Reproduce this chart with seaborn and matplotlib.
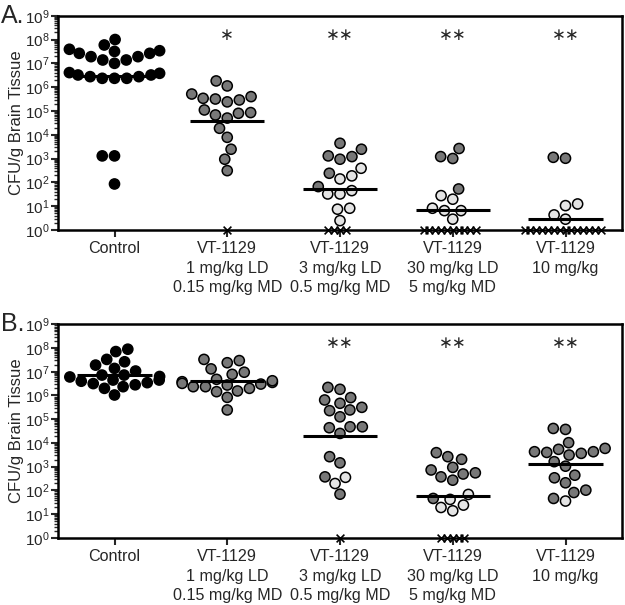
#imports
import numpy as np
import pandas as pd
import seaborn as sns
import matplotlib.pyplot as plt
from matplotlib.ticker import LogLocator, NullFormatter
import warnings
warnings.filterwarnings('ignore')

#groups (x categories)
groups = ["Control",
          "VT-1129\n1 mg/kg LD\n0.15 mg/kg MD",
          "VT-1129\n3 mg/kg LD\n0.5 mg/kg MD",
          "VT-1129\n30 mg/kg LD\n5 mg/kg MD",
          "VT-1129\n10 mg/kg"]
stars = ["", "\u2217", "\u2217\u2217", "\u2217\u2217", "\u2217\u2217"]
starsB = ["", "", "\u2217\u2217", "\u2217\u2217", "\u2217\u2217"]

#panel A, log10 CFU/g
a_ctrl = [8.0, 7.77, 7.59, 7.53, 7.50, 7.42, 7.42, 7.28, 7.28, 7.14, 7.14, 7.0,
          6.61, 6.58, 6.51, 6.51, 6.44, 6.44, 6.37, 6.37, 6.37, 3.11, 3.11, 1.93]
a_vt1_dark = [6.26, 6.05, 5.71, 5.53, 5.46, 5.38, 5.50, 5.60, 4.93, 4.70, 5.04,
              4.83, 4.90, 4.27, 3.89, 3.39, 2.97, 2.49]
a_vt3_dark = [3.64, 3.39, 3.11, 2.97, 3.08, 2.38, 1.82]
a_vt3_light = [2.59, 2.14, 2.27, 1.51, 1.65, 1.51, 0.91, 0.87, 0.39]
a_vt30_dark = [3.08, 3.00, 3.42, 1.72]
a_vt30_light = [1.29, 1.44, 0.81, 0.81, 0.91, 0.45]
a_vt10_dark = [3.01, 3.05]
a_vt10_light = [1.09, 1.02, 0.63, 0.45]
a_nd = [0, 1, 4, 10, 14]   # number of X (at detection limit) per group

#panel B
b_ctrl = [7.95, 7.85, 7.52, 7.42, 7.28, 7.14, 7.03, 6.86, 6.86, 6.80, 6.78,
          6.65, 6.65, 6.60, 6.54, 6.50, 6.45, 6.37, 6.30, 6.02]
b_vt1_dark = [7.47, 7.52, 7.38, 7.12, 6.89, 6.98, 6.68, 6.58, 6.44, 6.37, 6.19,
              6.16, 5.92, 6.30, 6.37, 6.51, 5.39, 6.55, 6.48, 6.62]
b_vt3_dark = [6.34, 6.26, 5.81, 5.91, 5.50, 5.36, 5.39, 5.67, 5.10, 4.68, 4.64,
              4.40, 4.68, 3.42, 3.16, 2.57, 1.84]
b_vt3_light = [2.29, 2.55]
b_vt30_dark = [3.42, 3.31, 3.59, 2.86, 2.69, 2.43, 2.57, 2.74, 2.97, 1.66]
b_vt30_light = [1.83, 1.62, 1.28, 1.14, 1.38]
b_vt10_dark = [4.57, 4.61, 4.01, 3.63, 3.73, 3.56, 3.77, 3.60, 3.63, 3.49, 3.21,
               3.02, 2.53, 2.64, 2.32, 2.01, 1.91, 1.66]
b_vt10_light = [1.55]
b_nd = [0, 0, 1, 5, 0]


def build(ctrl, dark, light, nd):
    rows = []
    for v in ctrl:
        rows.append((groups[0], 10 ** v, 'ctrl'))
    for i in range(4):
        for v in dark[i]:
            rows.append((groups[i + 1], 10 ** v, 'dark'))
        for v in light[i]:
            rows.append((groups[i + 1], 10 ** v, 'light'))
    for i, n in enumerate(nd):
        for k in range(n):
            rows.append((groups[i], 1.0, 'nd'))
    return pd.DataFrame(rows, columns=['group', 'cfu', 'kind'])


dfA = build(a_ctrl, [a_vt1_dark, a_vt3_dark, a_vt30_dark, a_vt10_dark],
            [[], a_vt3_light, a_vt30_light, a_vt10_light], a_nd)
dfB = build(b_ctrl, [b_vt1_dark, b_vt3_dark, b_vt30_dark, b_vt10_dark],
            [[], b_vt3_light, b_vt30_light, b_vt10_light], b_nd)

sns.set_style('ticks')
plt.rcParams['font.family'] = ['Liberation Sans', 'DejaVu Sans']
pal = {'ctrl': '#000000', 'dark': '#787878', 'light': '#e4e4e4'}

fig = plt.figure(figsize=(6.25, 6.05), dpi=100)
axA = fig.add_axes([0.093, 0.620, 0.902, 0.354])
axB = fig.add_axes([0.093, 0.111, 0.902, 0.353])
xmarks = []  # collections holding the X (detection limit) markers


def panel(ax, df, st, letter):
    ax.set_yscale('log')
    ax.set_xlim(-0.5, 4.5)
    ax.set_ylim(1, 1e9)
    dots = df[df['kind'] != 'nd']
    sns.swarmplot(data=dots, x='group', y='cfu', hue='kind', palette=pal,
                  order=groups, size=7.3, edgecolor='black', linewidth=1.1,
                  legend=False, ax=ax)
    nd = df[df['kind'] == 'nd']
    if len(nd):
        n0 = len(ax.collections)
        # small size so the X's pack tightly (they overlap in the original)
        sns.swarmplot(data=nd, x='group', y='cfu', order=groups, marker='x',
                      color='black', size=2.8, linewidth=1.2, clip_on=False,
                      ax=ax)
        xmarks.extend(ax.collections[n0:])
    # geometric mean lines
    gm = df.groupby('group', sort=False)['cfu'].apply(lambda v: 10 ** np.log10(v).mean())
    gm = gm.reindex(groups)
    xs = np.arange(len(groups))
    ax.hlines(gm.values, xs - 0.33, xs + 0.33, color='black', lw=2.2, zorder=6)
    for i, s in enumerate(st):
        if s:
            ax.text(i, 1.6e8, s, ha='center', va='center', fontsize=12,
                    family=['DejaVu Sans'])
    ax.set_yscale('log')
    ax.set_xlim(-0.5, 4.5)
    ax.set_ylim(1, 1e9)
    ax.yaxis.set_major_locator(LogLocator(base=10, numticks=20))
    ax.yaxis.set_minor_locator(LogLocator(base=10, subs=np.arange(2, 10), numticks=20))
    ax.yaxis.set_minor_formatter(NullFormatter())
    for sp in ax.spines.values():
        sp.set_visible(True)
        sp.set_linewidth(1.8)
        sp.set_color('black')
    ax.tick_params(axis='y', which='major', length=5, width=1.5, labelsize=11, pad=1)
    ax.tick_params(axis='y', which='minor', length=3, width=1.0)
    ax.tick_params(axis='x', length=5, width=1.5, labelsize=11.6, pad=3)
    ax.set_xlabel('')
    ax.set_ylabel('CFU/g Brain Tissue', fontsize=12, labelpad=1)
    for t in ax.get_xticklabels():
        t.set_linespacing(1.38)
        t.set_verticalalignment('top')
    ax.text(-0.08, 1.0, letter, transform=ax.transAxes, fontsize=18,
            ha='center', va='center')


panel(axA, dfA, stars, 'A.')
panel(axB, dfB, starsB, 'B.')

#lay out the swarms once, then freeze the X positions and draw them bigger
fig.canvas.draw()
for c in xmarks:
    if 'draw' in c.__dict__:
        del c.draw
    c.set_sizes([5.6 ** 2])

plt.savefig('out.png', dpi=100)
